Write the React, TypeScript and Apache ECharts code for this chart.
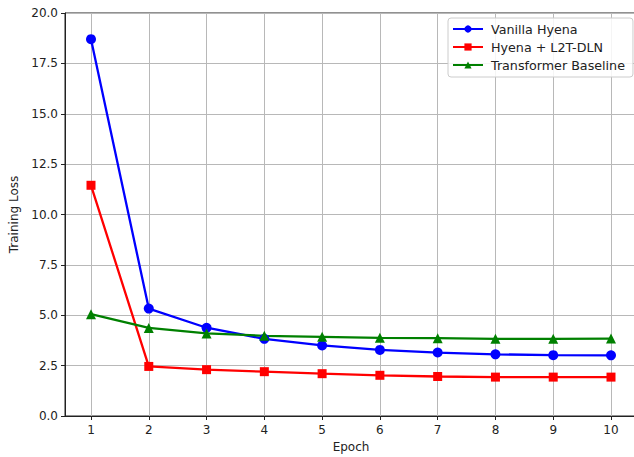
import React, { useEffect, useRef } from "react";
import * as echarts from "echarts";

const epochs = [1, 2, 3, 4, 5, 6, 7, 8, 9, 10];
const vanillaHyena = [18.7, 5.33, 4.38, 3.83, 3.5, 3.28, 3.15, 3.06, 3.02, 3.01];
const hyenaL2T = [11.45, 2.46, 2.3, 2.2, 2.1, 2.02, 1.96, 1.93, 1.93, 1.93];
const transformer = [5.05, 4.37, 4.1, 3.98, 3.93, 3.88, 3.86, 3.83, 3.83, 3.84];

const FONT = "DejaVu Sans";

export default function App() {
  const ref = useRef<HTMLDivElement>(null);
  useEffect(() => {
    const chart = echarts.init(ref.current!, null, { renderer: "svg" });
    const mk = (name: string, data: number[], color: string, symbol: string, size: number) => ({
      name,
      type: "line",
      data: epochs.map((e, i) => [e, data[i]]),
      symbol,
      symbolSize: size,
      showSymbol: true,
      lineStyle: { color, width: 2.3 },
      itemStyle: { color },
      z: 3,
    });
    chart.setOption({
      animation: false,
      backgroundColor: "#ffffff",
      textStyle: { fontFamily: FONT },
      grid: {
        left: 65,
        top: 13,
        width: 572,
        height: 403,
        show: true,
        borderColor: "#222",
        borderWidth: 1,
        backgroundColor: "#ffffff",
        containLabel: false,
        outerBoundsMode: "none",
      },
      legend: {
        orient: "vertical",
        left: 448,
        top: 18,
        itemWidth: 30,
        itemHeight: 9,
        itemGap: 4,
        padding: [4, 8, 5, 4],
        borderColor: "#cccccc",
        borderWidth: 1,
        borderRadius: 3,
        backgroundColor: "rgba(255,255,255,0.85)",
        textStyle: {
          fontFamily: FONT,
          fontSize: 12.7,
          lineHeight: 14,
          color: "#222",
          padding: [0, 0, 0, 3],
        },
        data: ["Vanilla Hyena", "Hyena + L2T-DLN", "Transformer Baseline"],
      },
      xAxis: {
        type: "value",
        min: 0.55,
        max: 10.45,
        name: "Epoch",
        nameLocation: "middle",
        nameGap: 25,
        nameTextStyle: { fontFamily: FONT, fontSize: 12, color: "#222" },
        axisLine: { show: true, lineStyle: { color: "#222", width: 1 } },
        axisTick: { show: true, length: 4, lineStyle: { color: "#222" }, customValues: epochs },
        axisLabel: {
          customValues: epochs,
          fontFamily: FONT,
          fontSize: 12,
          color: "#222",
          margin: 8,
        },
        splitLine: { show: true, lineStyle: { color: "#b8b8b8", width: 1 } },
      },
      yAxis: {
        type: "value",
        min: 0,
        max: 20,
        interval: 2.5,
        name: "Training Loss",
        nameLocation: "middle",
        nameGap: 44,
        nameTextStyle: { fontFamily: FONT, fontSize: 12, color: "#222" },
        axisLine: { show: true, lineStyle: { color: "#222", width: 1 } },
        axisTick: { show: true, length: 4, lineStyle: { color: "#222" } },
        axisLabel: {
          fontFamily: FONT,
          fontSize: 12,
          color: "#222",
          margin: 7,
          formatter: (v: number) => v.toFixed(1),
        },
        splitLine: { show: true, lineStyle: { color: "#b8b8b8", width: 1 } },
      },
      series: [
        mk("Vanilla Hyena", vanillaHyena, "#0000ff", "circle", 10),
        mk("Hyena + L2T-DLN", hyenaL2T, "#ff0000", "rect", 9),
        mk("Transformer Baseline", transformer, "#008000", "triangle", 10),
      ],
    });
    return () => chart.dispose();
  }, []);
  return (
    <div
      ref={ref}
      style={{ position: "fixed", left: 0, top: 0, width: 634, height: 457 }}
    />
  );
}
